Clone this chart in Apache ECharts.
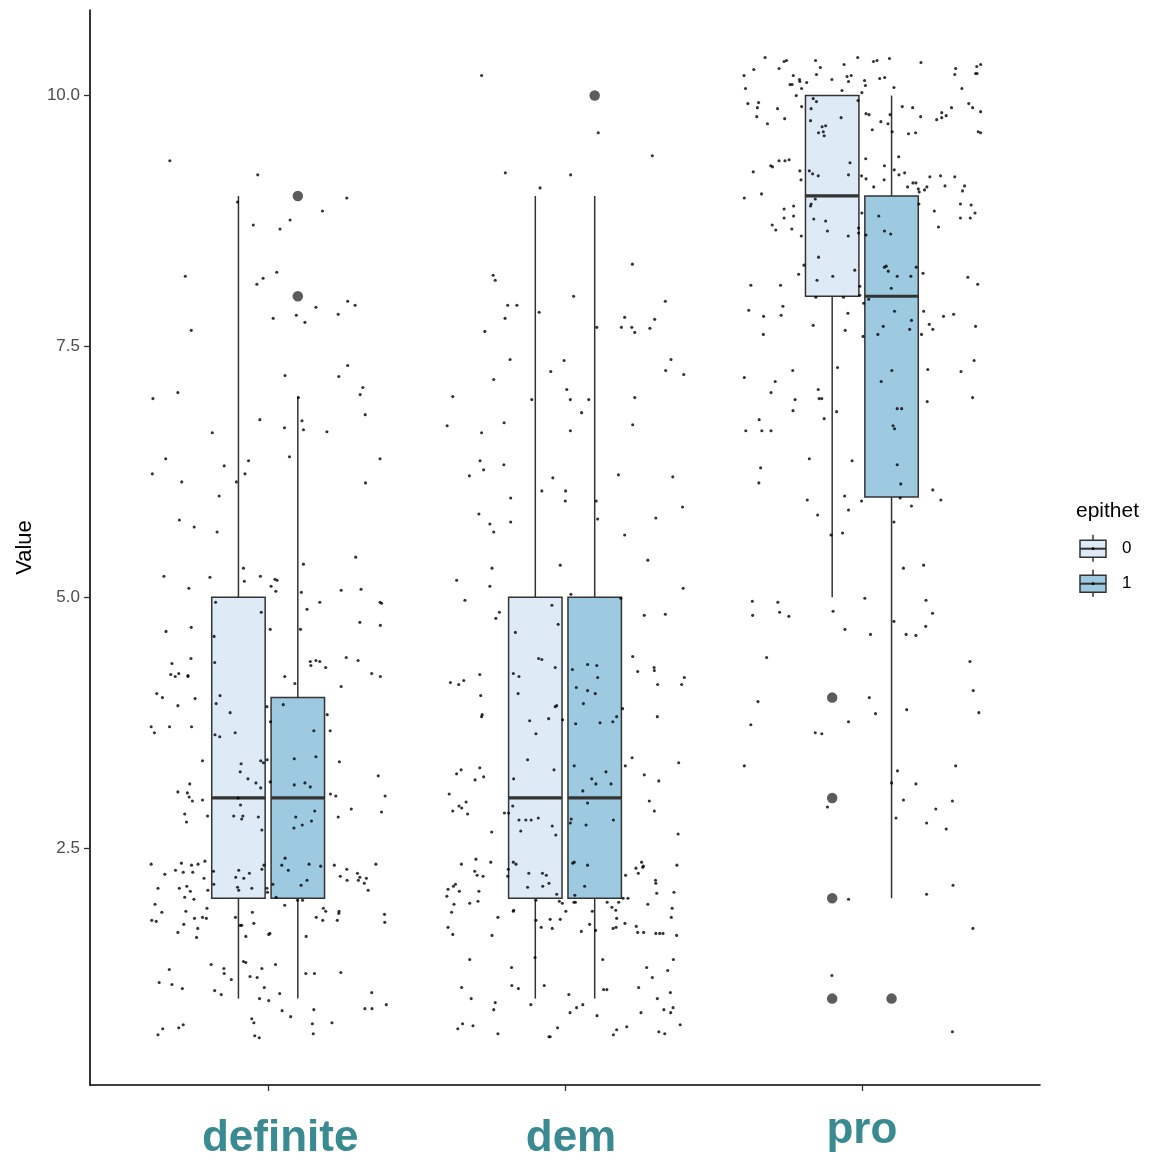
<!DOCTYPE html>
<html>
<head>
<meta charset="utf-8">
<script src="https://cdn.jsdelivr.net/npm/echarts@6/dist/echarts.min.js"></script>
<style>
  html, body { margin: 0; padding: 0; background: #ffffff; }
  #chart { width: 1162px; height: 1161px; }
</style>
</head>
<body>
<div id="chart"></div>
<script>
// ---------------- data ----------------
const categories = ['definite', 'dem', 'pro'];
const groups = ['0', '1'];
const yTicks = [2.5, 5.0, 7.5, 10.0];

// box statistics per category: [lower whisker, Q1, median, Q3, upper whisker]
const boxStats0 = [[1, 2, 3, 5, 9], [1, 2, 3, 5, 9], [5, 8, 9, 10, 10]];
const boxStats1 = [[1, 2, 3, 4, 7], [1, 2, 3, 5, 9], [2, 6, 8, 9, 10]];
// outliers: [category index, value]
const outliers0 = [[2, 4], [2, 3], [2, 2], [2, 1]];
const outliers1 = [[0, 8], [0, 9], [1, 10], [2, 1]];

// jittered raw observations (x = jittered category position, y = jittered value)
const defX = [0.669,0.965,1.265,0.897,1.183,1.074,0.950,1.040,1.029,0.983,
0.962,0.721,1.268,1.293,1.161,1.236,1.017,1.095,1.124,0.741,
1.268,1.057,1.238,1.319,1.310,0.696,1.102,0.612,1.327,0.972,
1.114,1.055,1.119,1.198,0.812,0.655,1.072,0.934,1.377,0.852,
0.610,0.922,0.709,0.893,1.328,0.835,0.701,0.751,0.828,1.295,
1.119,0.917,0.649,0.804,0.974,1.023,1.030,0.920,0.733,1.010,
1.026,1.112,1.246,1.313,0.823,1.174,1.377,1.382,1.131,0.977,
1.309,1.378,0.741,0.656,1.007,1.109,0.818,1.263,1.303,0.740,
0.676,0.820,1.142,1.161,1.174,1.144,1.194,0.672,0.687,0.699,
0.730,0.730,1.056,1.349,1.378,1.090,1.246,0.625,0.644,0.754,
0.838,0.696,0.825,0.996,1.051,0.872,1.199,1.008,0.606,0.617,
0.668,0.742,1.154,1.209,0.821,0.837,0.889,0.779,0.909,0.975,
0.984,0.997,1.088,1.161,1.240,0.906,1.371,0.736,0.932,0.959,
0.975,1.007,1.088,1.124,1.142,0.696,0.728,0.734,0.745,0.779,
1.210,1.228,1.394,0.899,0.907,1.280,1.157,1.382,0.719,0.796,
0.884,0.915,0.911,0.967,1.093,1.146,1.236,0.725,1.115,1.087,
0.979,1.057,1.138,1.046,1.068,1.177,1.223,1.265,1.363,0.606,
0.708,0.742,0.764,0.787,0.688,0.714,0.746,0.652,0.986,0.979,
0.816,0.901,0.937,0.891,0.918,0.784,1.243,1.266,1.301,1.309,
1.304,1.331,1.324,1.337,1.131,1.111,1.016,0.817,0.897,0.901,
0.945,0.996,0.998,0.629,0.701,0.726,0.738,0.797,0.719,0.750,
1.027,1.099,1.116,1.056,0.619,0.642,0.723,0.794,1.186,1.194,
1.239,1.238,1.392,0.947,0.608,0.623,0.752,0.779,0.792,0.890,
1.162,1.184,1.233,1.393,0.716,0.906,0.911,0.952,0.763,0.696,
1.002,1.006,1.128,0.759,0.925,0.808,0.917,0.925,1.025,0.667,
0.851,0.852,0.979,1.127,1.156,1.245,0.633,0.676,0.711,0.876,
0.939,0.963,0.987,0.820,0.842,1.039,0.971,1.002,1.349,1.326,
1.350,1.398,1.047,1.076,1.154,0.945,0.952,1.149,1.215,0.645,
0.629,0.699,0.714,0.955,0.970,1.152];
const defY = [9.35,9.21,8.98,8.94,8.85,8.76,8.71,8.67,8.24,8.18,
8.12,8.20,7.95,7.91,7.89,7.82,7.78,7.81,7.74,7.66,
7.31,7.21,7.20,7.09,7.02,7.04,6.99,6.98,6.82,6.77,
6.76,6.69,6.67,6.65,6.64,6.38,6.40,6.36,6.38,6.31,
6.23,6.23,6.15,6.15,6.14,6.01,5.77,5.70,5.65,5.40,
5.33,5.29,5.21,5.20,5.21,5.18,5.17,5.16,5.09,5.11,
5.06,5.05,5.07,5.08,4.95,4.95,4.95,4.94,4.88,4.85,
4.75,4.72,4.70,4.66,4.68,4.68,4.61,4.40,4.37,4.39,
4.34,4.35,4.36,4.37,4.36,4.32,4.30,4.23,4.21,4.24,
4.22,4.21,4.21,4.24,4.21,4.14,4.11,4.04,4.00,3.99,
4.02,3.92,3.94,3.91,3.93,3.85,3.83,3.76,3.71,3.65,
3.71,3.71,3.67,3.67,3.63,3.61,3.65,3.37,3.34,3.37,
3.35,3.38,3.39,3.41,3.36,3.26,3.22,3.14,3.19,3.15,
3.10,3.16,3.13,3.15,3.11,3.06,3.05,3.01,2.97,2.98,
3.04,3.02,3.02,3.00,2.93,2.89,2.87,2.86,2.84,2.82,
2.82,2.82,2.79,2.81,2.81,2.77,2.81,2.76,2.73,2.70,
2.68,2.40,2.34,2.33,2.28,2.32,2.33,2.29,2.34,2.34,
2.35,2.33,2.34,2.37,2.28,2.26,2.26,2.24,2.33,2.29,
2.27,2.28,2.25,2.21,2.20,2.20,2.22,2.18,2.25,2.21,
2.18,2.20,2.15,2.08,2.18,2.13,2.14,2.14,2.11,2.08,
2.10,2.10,2.06,2.10,2.10,2.12,2.07,2.08,2.01,1.99,
2.01,1.98,1.98,1.93,1.94,1.86,1.87,1.90,1.90,1.87,
1.87,1.85,1.84,1.86,1.78,1.77,1.80,1.81,1.80,1.81,
1.81,1.78,1.78,1.76,1.74,1.73,1.73,1.75,1.70,1.66,
1.64,1.65,1.62,1.61,1.62,1.34,1.37,1.36,1.34,1.29,
1.30,1.25,1.30,1.25,1.25,1.26,1.16,1.14,1.10,1.19,
1.22,1.21,1.11,1.08,1.04,1.05,1.00,0.98,1.06,0.90,
0.90,0.94,0.88,0.82,0.89,0.80,0.76,0.75,0.76,0.70,
0.64,0.71,0.74,0.63,0.61,0.65];

const demX = [1.719,2.112,2.294,1.799,2.019,1.916,2.227,1.758,1.765,2.029,
2.338,1.807,1.838,1.913,2.201,2.302,1.798,1.730,2.107,2.190,
2.225,2.235,2.286,2.357,1.815,1.997,1.952,2.339,2.400,1.760,
2.006,1.622,2.235,1.888,2.018,2.080,2.056,1.603,1.795,1.719,
2.018,2.228,1.714,1.726,1.794,1.678,1.959,2.180,2.363,1.922,
2.002,2.001,1.817,2.105,2.110,2.396,1.710,1.747,1.760,1.817,
2.306,2.201,2.279,1.984,1.754,1.635,1.747,2.398,2.020,2.188,
1.663,1.956,1.779,1.767,2.267,2.338,1.977,1.833,2.228,1.911,
1.922,1.967,2.076,2.107,2.025,2.245,2.300,2.301,1.826,1.845,
1.713,2.110,2.402,1.614,1.642,1.659,2.312,2.393,2.038,2.076,
2.102,1.842,1.716,2.062,1.972,1.967,2.194,1.721,1.719,2.174,
2.311,1.881,1.945,1.992,2.036,2.118,2.161,1.902,1.874,1.963,
1.827,2.031,2.138,2.090,2.104,2.155,2.060,2.226,2.203,2.383,
1.635,1.650,1.713,1.726,1.697,2.267,2.316,1.610,1.622,1.643,
1.652,1.667,1.672,2.284,2.301,1.824,1.796,1.810,2.076,1.845,
1.868,1.886,1.910,2.021,2.018,2.163,2.071,1.957,1.851,1.753,
1.969,2.381,1.651,1.700,1.750,1.696,1.704,1.724,1.826,1.835,
1.809,1.807,1.878,1.924,1.937,1.874,1.925,1.946,1.972,2.026,
2.031,2.076,2.066,2.033,2.204,2.239,2.247,2.258,2.264,2.262,
2.377,2.305,2.306,2.309,2.367,1.606,1.624,1.631,1.644,1.710,
1.602,1.626,1.679,1.707,1.618,1.902,1.981,1.991,2.030,2.035,
2.142,2.158,2.171,2.181,2.196,2.212,2.279,2.003,2.092,1.827,
1.826,1.774,2.361,2.358,1.902,1.950,1.984,2.174,2.202,2.083,
1.606,1.920,1.957,2.162,2.172,2.240,2.055,2.103,2.245,2.265,
2.306,2.319,2.330,2.376,1.622,1.754,1.679,1.899,2.127,2.365,
1.820,2.275,2.294,2.346,1.652,1.821,1.843,1.930,2.130,2.141,
2.248,1.684,1.765,1.760,1.885,2.013,2.039,2.060,2.017,2.108,
2.256,2.311,2.355,2.333,2.356,2.364,1.639,1.655,1.690,1.774,
1.946,1.950,1.975,2.163,2.174,2.208,2.316,2.336,2.388];
const demY = [10.20,9.63,9.40,9.23,9.21,9.08,8.32,8.21,8.16,8.00,
7.95,7.91,7.91,7.84,7.79,7.77,7.78,7.65,7.69,7.69,
7.69,7.64,7.68,7.37,7.37,7.36,7.25,7.26,7.22,7.17,
7.07,7.00,6.99,6.97,6.97,6.97,6.84,6.71,6.74,6.64,
6.66,6.72,6.36,6.27,6.32,6.21,6.19,6.22,6.20,6.06,
6.06,5.96,5.99,5.96,5.78,5.90,5.83,5.73,5.65,5.75,
5.79,5.62,5.37,5.32,5.29,5.17,5.11,5.09,5.03,4.99,
4.97,4.92,4.85,4.79,4.82,4.83,4.73,4.65,4.41,4.39,
4.38,4.30,4.33,4.32,4.28,4.26,4.30,4.27,4.24,4.21,
4.23,4.20,4.20,4.15,4.13,4.17,4.13,4.13,4.10,4.07,
4.04,4.04,4.02,3.94,3.92,3.91,3.89,3.83,3.81,3.81,
3.81,3.77,3.79,3.78,3.74,3.75,3.76,3.64,3.38,3.28,
3.19,3.32,3.26,3.19,3.14,3.14,3.07,3.40,3.32,3.35,
3.24,3.28,3.30,3.21,3.18,3.23,3.17,3.04,2.87,2.92,
2.90,2.96,2.84,2.97,2.87,2.92,2.85,2.85,2.95,2.78,
2.78,2.78,2.80,2.79,2.75,2.78,2.73,2.72,2.67,2.66,
2.63,2.64,2.34,2.39,2.36,2.27,2.23,2.22,2.36,2.34,
2.29,2.22,2.25,2.25,2.23,2.11,2.12,2.15,2.04,2.35,
2.36,2.33,2.12,2.03,2.23,2.30,2.25,2.36,2.32,2.31,
2.33,2.18,2.15,2.05,2.06,2.09,2.12,2.14,2.07,2.07,
2.02,1.94,1.95,1.97,1.86,1.98,1.97,1.95,1.96,1.96,
1.96,1.91,1.88,1.96,2.00,2.00,1.94,1.87,1.87,1.88,
1.87,1.81,1.90,1.81,1.78,1.79,1.79,1.80,1.75,1.74,
1.71,1.71,1.70,1.70,1.71,1.72,1.67,1.68,1.66,1.66,
1.65,1.65,1.65,1.63,1.64,1.63,1.39,1.41,1.39,1.39,
1.31,1.31,1.21,1.28,1.11,1.13,1.10,1.13,1.09,1.09,
1.11,1.00,0.96,0.89,0.94,1.04,0.91,0.94,0.86,0.83,
0.86,1.00,1.06,0.89,0.86,0.91,0.70,0.75,0.73,0.65,
0.62,0.62,0.71,0.64,0.69,0.72,0.67,0.65,0.74];

const proX = [2.674,2.738,2.746,2.844,2.986,3.039,3.051,3.093,3.199,2.636,
2.721,2.860,2.940,3.316,3.313,3.387,3.400,3.383,3.388,2.603,
2.769,2.847,2.950,2.964,3.060,3.077,2.899,2.790,2.791,2.814,
2.955,3.009,3.012,2.758,2.765,2.797,2.608,3.108,3.337,2.933,
3.000,2.779,2.836,2.847,2.987,2.616,2.652,2.648,2.716,2.797,
2.829,3.136,3.171,3.302,3.360,3.373,3.400,2.646,2.740,2.930,
3.014,3.024,3.095,3.198,3.269,3.269,3.284,3.252,2.827,2.682,
3.064,3.088,2.866,2.878,3.035,2.854,2.870,2.873,3.102,3.157,
3.181,3.392,3.400,3.124,3.013,2.693,2.699,2.721,2.741,2.755,
2.960,3.076,2.634,2.791,2.823,2.834,2.853,2.955,2.999,3.014,
3.109,3.125,3.144,3.229,3.265,3.313,2.795,3.075,3.040,3.172,
3.182,3.154,3.190,3.193,3.211,3.219,3.280,3.346,3.339,2.662,
2.604,2.843,2.829,2.827,3.192,3.057,3.244,3.332,3.368,3.381,
3.365,3.332,2.738,2.770,2.738,2.770,2.838,2.878,3.000,2.698,
2.710,2.764,2.796,2.884,2.954,2.989,2.989,3.014,3.076,3.097,
3.258,2.854,2.805,2.787,2.902,2.976,2.849,3.076,3.082,3.089,
3.119,3.165,3.183,3.206,3.357,3.390,2.626,2.726,2.993,3.099,
2.845,2.938,2.993,3.023,3.006,2.734,2.619,2.669,2.728,2.953,
3.110,3.208,3.275,3.309,3.167,3.227,3.239,3.383,2.836,3.072,
3.161,2.944,2.668,3.004,3.054,3.201,2.918,2.767,2.604,2.708,
3.101,3.222,3.334,3.378,3.065,2.694,2.853,2.775,2.856,2.865,
3.220,3.373,2.768,2.915,3.119,3.134,2.873,2.654,2.609,2.663,
2.694,3.105,3.110,2.823,2.967,3.119,2.659,2.653,3.131,3.239,
3.266,2.816,2.942,2.999,3.129,3.167,2.955,2.851,3.108,2.896,
2.935,3.140,3.208,2.631,2.717,2.632,2.723,2.754,3.010,2.903,
3.216,3.238,3.108,3.215,2.943,3.029,3.149,3.182,2.679,3.364,
3.025,2.650,3.375,3.046,3.151,3.394,2.626,2.955,2.843,2.865,
2.604,3.316,3.120,3.100,3.182,3.140,3.305,2.884,3.249,3.115,
3.218,3.284,3.307,2.955,3.218,3.374,2.899,3.305];
const proY = [10.38,10.34,10.35,10.35,10.38,10.34,10.35,10.37,10.33,10.26,
10.27,10.28,10.31,10.27,10.21,10.29,10.31,10.22,10.22,10.20,
10.20,10.21,10.19,10.20,10.17,10.18,10.16,10.16,10.14,10.13,
10.14,10.15,10.10,10.11,10.11,10.07,10.07,10.08,10.07,10.05,
10.03,10.00,9.97,9.94,9.95,9.92,9.93,9.88,9.87,9.89,
9.87,9.89,9.88,9.88,9.92,9.88,9.84,9.79,9.77,9.78,
9.82,9.81,9.81,9.79,9.83,9.78,9.80,9.76,9.75,9.72,
9.74,9.72,9.69,9.70,9.66,9.63,9.64,9.60,9.64,9.62,
9.63,9.64,9.63,9.39,9.37,9.30,9.29,9.35,9.35,9.36,
9.33,9.30,9.24,9.25,9.25,9.22,9.20,9.21,9.20,9.17,
9.26,9.21,9.23,9.19,9.20,9.19,9.16,9.16,9.09,9.13,
9.13,9.09,9.07,9.04,9.06,9.09,9.10,9.10,9.05,9.02,
8.98,8.97,8.92,8.90,8.92,8.80,8.85,8.92,8.91,8.83,
8.78,8.78,8.87,8.90,8.78,8.80,8.77,8.75,8.83,8.71,
8.66,8.67,8.60,8.65,8.60,8.68,8.63,8.61,8.65,8.62,
8.69,8.39,8.31,8.22,8.20,8.26,8.16,8.29,8.30,8.25,
8.20,8.20,8.29,8.23,8.19,8.12,8.11,8.11,8.10,8.08,
7.99,7.99,8.01,7.97,7.93,7.90,7.86,7.80,7.81,7.83,
7.85,7.85,7.80,7.82,7.76,7.72,7.67,7.70,7.71,7.70,
7.67,7.66,7.62,7.60,7.62,7.62,7.29,7.26,7.19,7.15,
7.26,7.27,7.25,7.36,7.15,7.04,7.07,6.97,6.98,6.98,
6.95,6.99,6.86,6.85,6.88,6.88,6.78,6.77,6.66,6.66,
6.66,6.71,6.68,6.38,6.36,6.32,6.29,6.14,6.13,6.07,
5.97,5.97,6.01,5.96,5.99,5.91,5.87,5.82,5.75,5.62,
5.64,5.29,5.32,4.96,4.95,4.82,4.85,4.81,4.99,4.86,
4.97,4.84,4.76,4.71,4.68,4.63,4.63,4.62,4.40,4.36,
4.00,3.96,4.07,3.84,3.88,3.85,3.73,3.76,3.65,3.64,
3.32,3.32,3.27,3.15,3.14,2.98,2.97,2.91,2.89,2.80,
2.75,2.69,2.13,1.99,2.04,1.70,1.23,0.67];

// ---------------- styling / layout ----------------
const FONT = '"Liberation Sans", Arial, Helvetica, sans-serif';
const FILL0 = '#deebf7';
const FILL1 = '#9ecae1';
const EDGE = '#333333';
const TEAL = '#3a8a92';
const DODGE = 0.1;
const BOX_W = 0.18;

function boxData(stats, offset) {
  return stats.map((s, i) => [i + 1 + offset].concat(s));
}
function outlierData(list, offset) {
  return list.map(o => [o[0] + 1 + offset, o[1]]);
}
function zipPts(xs, ys) {
  return xs.map((x, i) => [x, ys[i]]);
}

function makeBoxRenderer(fill) {
  return function (params, api) {
    const x = api.value(0);
    const lo = api.coord([x, api.value(1)]);
    const q1 = api.coord([x, api.value(2)]);
    const md = api.coord([x, api.value(3)]);
    const q3 = api.coord([x, api.value(4)]);
    const hi = api.coord([x, api.value(5)]);
    const w = api.size([BOX_W, 0])[0];
    const left = q1[0] - w / 2;
    const ls = { stroke: EDGE, lineWidth: 1.5 };
    return {
      type: 'group',
      children: [
        { type: 'line', shape: { x1: lo[0], y1: lo[1], x2: q1[0], y2: q1[1] }, style: ls },
        { type: 'line', shape: { x1: q3[0], y1: q3[1], x2: hi[0], y2: hi[1] }, style: ls },
        { type: 'rect', shape: { x: left, y: q3[1], width: w, height: q1[1] - q3[1] },
          style: { fill: fill, stroke: EDGE, lineWidth: 1.5 } },
        { type: 'line', shape: { x1: left, y1: md[1], x2: left + w, y2: md[1] },
          style: { stroke: EDGE, lineWidth: 3.2 } }
      ]
    };
  };
}

const chart = echarts.init(document.getElementById('chart'), null, { renderer: 'canvas' });

const labelRich = {
  c0: { fontSize: 44, fontWeight: 'bold', color: TEAL, fontFamily: FONT, lineHeight: 44, padding: [0, 0, 0, 24] },
  c1: { fontSize: 44, fontWeight: 'bold', color: TEAL, fontFamily: FONT, lineHeight: 44, padding: [0, 0, 0, 12] },
  c2: { fontSize: 44, fontWeight: 'bold', color: TEAL, fontFamily: FONT, lineHeight: 28 }
};

// legend drawn as graphics
function legendKey(y, fill, label) {
  return [
    { type: 'line', shape: { x1: 1093, y1: y - 14, x2: 1093, y2: y + 13 }, style: { stroke: EDGE, lineWidth: 1.5 } },
    { type: 'rect', shape: { x: 1080, y: y - 8.5, width: 26, height: 17 }, style: { fill: fill, stroke: EDGE, lineWidth: 1.5 } },
    { type: 'line', shape: { x1: 1080, y1: y, x2: 1106, y2: y }, style: { stroke: EDGE, lineWidth: 2 } },
    { type: 'circle', shape: { cx: 1093, cy: y, r: 1.4 }, style: { fill: '#000' } },
    { type: 'text', x: 1122, y: y, style: { text: label, fill: '#000', font: '17px ' + FONT, verticalAlign: 'middle', align: 'left' } }
  ];
}

const option = {
  animation: false,
  backgroundColor: '#ffffff',
  grid: { left: 90, right: 122, top: 10, bottom: 71, containLabel: false },
  xAxis: {
    type: 'value',
    min: 0.4,
    max: 3.6,
    splitLine: { show: false },
    axisLine: { show: true, onZero: false, lineStyle: { color: '#000', width: 1.6 } },
    axisTick: { show: true, customValues: [1, 2, 3], length: 6, lineStyle: { color: EDGE, width: 1.3 } },
    axisLabel: {
      show: true,
      customValues: [1, 2, 3],
      margin: 32,
      formatter: function (v) {
        const i = Math.round(v) - 1;
        return '{c' + i + '|' + categories[i] + '}';
      },
      rich: labelRich
    }
  },
  yAxis: {
    type: 'value',
    min: 0.139,
    max: 10.853,
    name: 'Value',
    nameLocation: 'middle',
    nameGap: 50,
    nameTextStyle: { fontSize: 22, color: '#000', fontFamily: FONT },
    splitLine: { show: false },
    axisLine: { show: true, onZero: false, lineStyle: { color: '#000', width: 1.6 } },
    axisTick: { show: true, customValues: yTicks, length: 6, lineStyle: { color: EDGE, width: 1.3 } },
    axisLabel: {
      show: true,
      customValues: yTicks,
      margin: 10,
      fontSize: 17,
      color: '#4d4d4d',
      fontFamily: FONT,
      formatter: function (v) { return v.toFixed(1); }
    }
  },
  series: [
    {
      name: groups[0], type: 'custom', renderItem: makeBoxRenderer(FILL0),
      data: boxData(boxStats0, -DODGE), encode: { x: 0, y: [1, 2, 3, 4, 5] }, z: 2, silent: true
    },
    {
      name: groups[1], type: 'custom', renderItem: makeBoxRenderer(FILL1),
      data: boxData(boxStats1, DODGE), encode: { x: 0, y: [1, 2, 3, 4, 5] }, z: 2, silent: true
    },
    {
      name: 'outliers0', type: 'scatter', data: outlierData(outliers0, -DODGE),
      symbolSize: 10.5, itemStyle: { color: EDGE }, z: 3, silent: true
    },
    {
      name: 'outliers1', type: 'scatter', data: outlierData(outliers1, DODGE),
      symbolSize: 10.5, itemStyle: { color: EDGE }, z: 3, silent: true
    },
    {
      name: 'jitter', type: 'scatter',
      data: zipPts(defX, defY).concat(zipPts(demX, demY), zipPts(proX, proY)),
      symbolSize: 3.1, itemStyle: { color: '#000' }, z: 4, silent: true, large: false
    }
  ],
  graphic: [
    { type: 'text', x: 1076, y: 511, style: { text: 'epithet', fill: '#000', font: '21px ' + FONT, verticalAlign: 'middle', align: 'left' } }
  ].concat(legendKey(548.7, FILL0, groups[0]), legendKey(583.7, FILL1, groups[1]))
};

chart.setOption(option);
</script>
</body>
</html>
